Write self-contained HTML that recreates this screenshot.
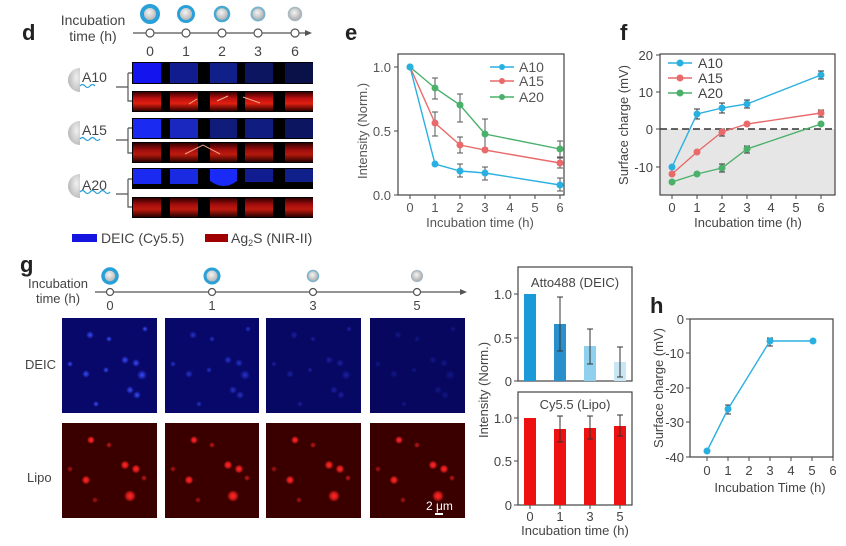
<!DOCTYPE html>
<html><head><meta charset="utf-8"><style>
html,body{margin:0;padding:0;background:#fff;}
svg{display:block;font-family:"Liberation Sans",sans-serif;}
</style></head><body>
<svg width="846" height="546" viewBox="0 0 846 546" xmlns="http://www.w3.org/2000/svg">
<defs>
<radialGradient id="ball" cx="0.45" cy="0.4" r="0.6"><stop offset="0" stop-color="#f4f4f4"/><stop offset="1" stop-color="#a8a8a8"/></radialGradient>
<radialGradient id="hemi" cx="0.7" cy="0.4" r="0.8"><stop offset="0" stop-color="#f0f0f0"/><stop offset="1" stop-color="#b0b0b0"/></radialGradient>
<radialGradient id="bdot"><stop offset="0" stop-color="#3a4cff"/><stop offset="1" stop-color="#3a4cff" stop-opacity="0"/></radialGradient>
<radialGradient id="rdot"><stop offset="0" stop-color="#ff2a2a"/><stop offset="0.5" stop-color="#ff2020" stop-opacity="0.8"/><stop offset="1" stop-color="#ff2020" stop-opacity="0"/></radialGradient>
<linearGradient id="rband" x1="0" y1="0" x2="0" y2="1"><stop offset="0" stop-color="#3a0000"/><stop offset="0.35" stop-color="#c01010"/><stop offset="0.6" stop-color="#e02010"/><stop offset="1" stop-color="#300000"/></linearGradient>
<g id="bdots">
<circle cx="28" cy="17" r="4" fill="url(#bdot)"/><circle cx="47" cy="21" r="3" fill="url(#bdot)"/><circle cx="83" cy="11" r="3" fill="url(#bdot)"/>
<circle cx="63" cy="42" r="4" fill="url(#bdot)"/><circle cx="74" cy="45" r="4" fill="url(#bdot)"/><circle cx="80" cy="57" r="5" fill="url(#bdot)"/>
<circle cx="24" cy="56" r="4" fill="url(#bdot)"/><circle cx="44" cy="52" r="3" fill="url(#bdot)"/><circle cx="68" cy="72" r="4" fill="url(#bdot)"/>
<circle cx="75" cy="77" r="4" fill="url(#bdot)"/><circle cx="34" cy="86" r="3" fill="url(#bdot)"/><circle cx="8" cy="46" r="3" fill="url(#bdot)"/>
</g>
<g id="rdots">
<circle cx="29" cy="17" r="4" fill="url(#rdot)"/><circle cx="47" cy="22" r="3" fill="url(#rdot)" opacity="0.6"/>
<circle cx="63" cy="42" r="4.5" fill="url(#rdot)"/><circle cx="74" cy="46" r="4.5" fill="url(#rdot)"/>
<circle cx="24" cy="57" r="4.5" fill="url(#rdot)"/><circle cx="68" cy="73" r="6" fill="url(#rdot)"/>
<circle cx="82" cy="55" r="3" fill="url(#rdot)" opacity="0.6"/><circle cx="8" cy="46" r="3" fill="url(#rdot)" opacity="0.5"/>
<circle cx="33" cy="77" r="3" fill="url(#rdot)" opacity="0.5"/>
</g>
</defs>

<!-- ===== Panel d ===== -->
<text x="22" y="40" font-size="22" font-weight="bold" fill="#222">d</text>
<text x="93" y="25" font-size="14" fill="#444" text-anchor="middle">Incubation</text>
<text x="93" y="41" font-size="14" fill="#444" text-anchor="middle">time (h)</text>
<g>
<circle cx="150" cy="14" r="8" fill="url(#ball)" stroke="#2aa0d8" stroke-width="4"/>
<circle cx="186" cy="14" r="7.5" fill="url(#ball)" stroke="#2aa0d8" stroke-width="3"/>
<circle cx="222" cy="14" r="7" fill="url(#ball)" stroke="#48a8d0" stroke-width="2.5"/>
<circle cx="258" cy="14" r="6.5" fill="url(#ball)" stroke="#7ab4cc" stroke-width="2"/>
<circle cx="295" cy="14" r="6.5" fill="url(#ball)" stroke="#a8b8c0" stroke-width="1.5"/>
</g>
<line x1="133" y1="33" x2="309" y2="33" stroke="#555" stroke-width="1.2"/>
<polygon points="312,33 305,30 305,36" fill="#555"/>
<g fill="#fff" stroke="#555" stroke-width="1.2">
<circle cx="150" cy="33" r="4"/><circle cx="186" cy="33" r="4"/><circle cx="222" cy="33" r="4"/><circle cx="258" cy="33" r="4"/><circle cx="295" cy="33" r="4"/>
</g>
<g font-size="14" fill="#444" text-anchor="middle">
<text x="150" y="56">0</text><text x="186" y="56">1</text><text x="222" y="56">2</text><text x="258" y="56">3</text><text x="295" y="56">6</text>
</g>
<!-- strips -->
<g>
<rect x="132" y="62" width="181" height="22" fill="#000"/>
<rect x="133" y="63" width="28" height="20" fill="#1414ee"/><rect x="170" y="63" width="28" height="20" fill="#111c8e"/><rect x="210" y="63" width="27" height="20" fill="#10208a"/><rect x="245" y="63" width="28" height="20" fill="#0c1660"/><rect x="285" y="63" width="28" height="20" fill="#0a1048"/>
<rect x="132" y="91" width="181" height="21" fill="#000"/>
<rect x="133" y="92" width="28" height="19" fill="url(#rband)"/><rect x="170" y="92" width="28" height="19" fill="url(#rband)"/><rect x="210" y="92" width="27" height="19" fill="url(#rband)"/><rect x="245" y="92" width="28" height="19" fill="url(#rband)"/><rect x="285" y="92" width="28" height="19" fill="url(#rband)"/>
<rect x="132" y="118" width="181" height="21" fill="#000"/>
<rect x="133" y="119" width="28" height="19" fill="#1a2af0"/><rect x="170" y="119" width="28" height="19" fill="#1a28c0"/><rect x="210" y="119" width="27" height="19" fill="#101c7a"/><rect x="245" y="119" width="28" height="19" fill="#101c80"/><rect x="285" y="119" width="28" height="19" fill="#0c1660"/>
<rect x="132" y="142" width="181" height="21" fill="#000"/>
<rect x="133" y="143" width="28" height="19" fill="url(#rband)" opacity="0.8"/><rect x="170" y="143" width="28" height="19" fill="url(#rband)" opacity="0.85"/><rect x="210" y="143" width="27" height="19" fill="url(#rband)" opacity="0.85"/><rect x="245" y="143" width="28" height="19" fill="url(#rband)" opacity="0.8"/><rect x="285" y="143" width="28" height="19" fill="url(#rband)" opacity="0.8"/>
<path d="M185 154 L203 145 L220 154" stroke="#f0a080" stroke-width="1" fill="none"/>
<rect x="132" y="168" width="181" height="21" fill="#000"/>
<rect x="133" y="169" width="28" height="15" fill="#1a2af0"/><rect x="170" y="169" width="28" height="15" fill="#1a2ae0"/><path d="M210 169 h27 v12 q-13 10 -27 0z" fill="#1a2af8"/><rect x="245" y="169" width="28" height="13" fill="#101c90"/><rect x="285" y="169" width="28" height="13" fill="#10208a"/>
<rect x="132" y="197" width="181" height="21" fill="#000"/>
<rect x="133" y="198" width="28" height="19" fill="url(#rband)" opacity="0.85"/><rect x="170" y="198" width="28" height="19" fill="url(#rband)" opacity="0.85"/><rect x="210" y="198" width="27" height="19" fill="url(#rband)" opacity="0.85"/><rect x="245" y="198" width="28" height="19" fill="url(#rband)" opacity="0.85"/><rect x="285" y="198" width="28" height="19" fill="url(#rband)" opacity="0.85"/>
<path d="M228 96 L217 101 M243 97 L260 103 M197 99 L189 104" stroke="#f0b090" stroke-width="1"/>
</g>
<!-- brackets and hemispheres -->
<g stroke="#555" stroke-width="1.2" fill="none">
<path d="M116 87 H128 M128 73 V101 H132 M128 73 H132"/>
<path d="M116 140 H128 M128 128 V153 H132 M128 128 H132"/>
<path d="M116 194 H128 M128 179 V207 H132 M128 179 H132"/>
</g>
<path d="M80 68 A12 12 0 0 0 80 92 Z" fill="url(#hemi)"/>
<path d="M80 121 A12 12 0 0 0 80 145 Z" fill="url(#hemi)"/>
<path d="M80 174 A12 12 0 0 0 80 198 Z" fill="url(#hemi)"/>
<g stroke="#2aa0d8" stroke-width="1.3" fill="none">
<path d="M80 86 q2.5 -3 5 0 t5 0 t5 0"/>
<path d="M80 139 q2.5 -3 5 0 t5 0 t5 0 t5 0"/>
<path d="M80 192 q2.5 -3 5 0 t5 0 t5 0 t5 0 t5 0 t5 0"/>
</g>
<g font-size="14" fill="#444">
<text x="82" y="82">A10</text><text x="82" y="135">A15</text><text x="82" y="190">A20</text>
</g>
<rect x="72" y="234" width="25" height="8" fill="#1515e0"/>
<text x="101" y="243" font-size="14" fill="#444">DEIC (Cy5.5)</text>
<rect x="205" y="234" width="23" height="8" fill="#a00000"/>
<text x="231" y="243" font-size="14" fill="#444">Ag<tspan font-size="9" dy="3">2</tspan><tspan dy="-3">S (NIR-II)</tspan></text>

<!-- ===== Panel e ===== -->
<text x="345" y="40" font-size="22" font-weight="bold" fill="#222">e</text>
<rect x="398" y="54" width="166" height="141" fill="none" stroke="#444" stroke-width="1.2"/>
<g stroke="#444" stroke-width="1">
<line x1="394" y1="67" x2="398" y2="67"/><line x1="394" y1="131" x2="398" y2="131"/><line x1="394" y1="195" x2="398" y2="195"/>
<line x1="410" y1="195" x2="410" y2="199"/><line x1="435" y1="195" x2="435" y2="199"/><line x1="460" y1="195" x2="460" y2="199"/><line x1="485" y1="195" x2="485" y2="199"/><line x1="510" y1="195" x2="510" y2="199"/><line x1="535" y1="195" x2="535" y2="199"/><line x1="560" y1="195" x2="560" y2="199"/>
</g>
<g font-size="13" fill="#555" text-anchor="end">
<text x="391" y="72">1.0</text><text x="391" y="136">0.5</text><text x="391" y="200">0.0</text>
</g>
<g font-size="13" fill="#555" text-anchor="middle">
<text x="410" y="212">0</text><text x="435" y="212">1</text><text x="460" y="212">2</text><text x="485" y="212">3</text><text x="510" y="212">4</text><text x="535" y="212">5</text><text x="560" y="212">6</text>
</g>
<text x="480" y="227" font-size="13" fill="#555" text-anchor="middle">Incubation time (h)</text>
<text transform="translate(367,131) rotate(-90)" font-size="13" fill="#555" text-anchor="middle">Intensity (Norm.)</text>
<g stroke="#555" stroke-width="1">
<path d="M435 99v-21 M432 99h6 M432 78h6"/><path d="M460 122v-28 M457 122h6 M457 94h6"/><path d="M485 148v-29 M482 148h6 M482 119h6"/><path d="M560 157v-16 M557 157h6 M557 141h6"/>
<path d="M435 136v-24 M432 136h6 M432 112h6"/><path d="M460 153v-16 M457 153h6 M457 137h6"/><path d="M560 168v-10 M557 168h6 M557 158h6"/>
<path d="M460 177v-13 M457 177h6 M457 164h6"/><path d="M485 180v-13 M482 180h6 M482 167h6"/><path d="M560 191v-13 M557 191h6 M557 178h6"/>
</g>
<polyline points="410,67 435,88 460,105 485,134 560,149" fill="none" stroke="#4ab06a" stroke-width="1.4"/>
<polyline points="410,67 435,123 460,145 485,150 560,163" fill="none" stroke="#e86a6a" stroke-width="1.4"/>
<polyline points="410,67 435,164 460,171 485,173 560,185" fill="none" stroke="#2ab0e0" stroke-width="1.4"/>
<g fill="#4ab06a"><circle cx="410" cy="67" r="3.5"/><circle cx="435" cy="88" r="3.5"/><circle cx="460" cy="105" r="3.5"/><circle cx="485" cy="134" r="3.5"/><circle cx="560" cy="149" r="3.5"/></g>
<g fill="#e86a6a"><circle cx="435" cy="123" r="3.5"/><circle cx="460" cy="145" r="3.5"/><circle cx="485" cy="150" r="3.5"/><circle cx="560" cy="163" r="3.5"/></g>
<g fill="#2ab0e0"><circle cx="410" cy="67" r="3.5"/><circle cx="435" cy="164" r="3.5"/><circle cx="460" cy="171" r="3.5"/><circle cx="485" cy="173" r="3.5"/><circle cx="560" cy="185" r="3.5"/></g>
<line x1="490" y1="67" x2="514" y2="67" stroke="#2ab0e0" stroke-width="1.4"/><circle cx="502" cy="67" r="3" fill="#2ab0e0"/>
<line x1="490" y1="81" x2="514" y2="81" stroke="#e86a6a" stroke-width="1.4"/><circle cx="502" cy="81" r="3" fill="#e86a6a"/>
<line x1="490" y1="97" x2="514" y2="97" stroke="#4ab06a" stroke-width="1.4"/><circle cx="502" cy="97" r="3" fill="#4ab06a"/>
<g font-size="14" fill="#555"><text x="519" y="72">A10</text><text x="519" y="86">A15</text><text x="519" y="102">A20</text></g>

<!-- ===== Panel f ===== -->
<text x="620" y="40" font-size="22" font-weight="bold" fill="#222">f</text>
<rect x="660" y="129" width="175" height="66" fill="#e6e6e6"/>
<rect x="660" y="54" width="175" height="141" fill="none" stroke="#444" stroke-width="1.2"/>
<line x1="660" y1="129" x2="835" y2="129" stroke="#333" stroke-width="1.5" stroke-dasharray="7,4"/>
<g stroke="#444" stroke-width="1">
<line x1="656" y1="55" x2="660" y2="55"/><line x1="656" y1="92" x2="660" y2="92"/><line x1="656" y1="129" x2="660" y2="129"/><line x1="656" y1="167" x2="660" y2="167"/>
<line x1="672" y1="195" x2="672" y2="199"/><line x1="697" y1="195" x2="697" y2="199"/><line x1="722" y1="195" x2="722" y2="199"/><line x1="747" y1="195" x2="747" y2="199"/><line x1="771" y1="195" x2="771" y2="199"/><line x1="796" y1="195" x2="796" y2="199"/><line x1="821" y1="195" x2="821" y2="199"/>
</g>
<g font-size="13" fill="#444" text-anchor="end">
<text x="653" y="60">20</text><text x="653" y="97">10</text><text x="653" y="134">0</text><text x="653" y="172">-10</text>
</g>
<g font-size="13" fill="#444" text-anchor="middle">
<text x="672" y="212">0</text><text x="697" y="212">1</text><text x="722" y="212">2</text><text x="747" y="212">3</text><text x="771" y="212">4</text><text x="796" y="212">5</text><text x="821" y="212">6</text>
</g>
<text x="748" y="227" font-size="13" fill="#444" text-anchor="middle">Incubation time (h)</text>
<text transform="translate(628,125) rotate(-90)" font-size="13" fill="#444" text-anchor="middle">Surface charge (mV)</text>
<g stroke="#333" stroke-width="1">
<path d="M697 119v-10 M694 119h6 M694 109h6"/><path d="M722 113v-10 M719 113h6 M719 103h6"/><path d="M747 108v-8 M744 108h6 M744 100h6"/><path d="M821 79v-8 M818 79h6 M818 71h6"/>
<path d="M821 117v-7 M818 117h6 M818 110h6"/><path d="M722 136v-7 M719 136h6 M719 129h6"/><path d="M747 153v-7 M744 153h6 M744 146h6"/><path d="M722 172v-8 M719 172h6 M719 164h6"/>
</g>
<polyline points="672,167 697,114 722,108 747,104 821,75" fill="none" stroke="#2ab0e0" stroke-width="1.4"/>
<polyline points="672,174 697,152 722,132 747,124 821,113" fill="none" stroke="#e86a6a" stroke-width="1.4"/>
<polyline points="672,182 697,174 722,168 747,149 821,124" fill="none" stroke="#4ab06a" stroke-width="1.4"/>
<g fill="#2ab0e0"><circle cx="672" cy="167" r="3.5"/><circle cx="697" cy="114" r="3.5"/><circle cx="722" cy="108" r="3.5"/><circle cx="747" cy="104" r="3.5"/><circle cx="821" cy="75" r="3.5"/></g>
<g fill="#e86a6a"><circle cx="672" cy="174" r="3.5"/><circle cx="697" cy="152" r="3.5"/><circle cx="722" cy="132" r="3.5"/><circle cx="747" cy="124" r="3.5"/><circle cx="821" cy="113" r="3.5"/></g>
<g fill="#4ab06a"><circle cx="672" cy="182" r="3.5"/><circle cx="697" cy="174" r="3.5"/><circle cx="722" cy="168" r="3.5"/><circle cx="747" cy="149" r="3.5"/><circle cx="821" cy="124" r="3.5"/></g>
<line x1="668" y1="63" x2="692" y2="63" stroke="#2ab0e0" stroke-width="1.4"/><circle cx="680" cy="63" r="3.5" fill="#2ab0e0"/>
<line x1="668" y1="78" x2="692" y2="78" stroke="#e86a6a" stroke-width="1.4"/><circle cx="680" cy="78" r="3.5" fill="#e86a6a"/>
<line x1="668" y1="93" x2="692" y2="93" stroke="#4ab06a" stroke-width="1.4"/><circle cx="680" cy="93" r="3.5" fill="#4ab06a"/>
<g font-size="14" fill="#444"><text x="698" y="68">A10</text><text x="698" y="83">A15</text><text x="698" y="98">A20</text></g>

<!-- ===== Panel g ===== -->
<text x="20" y="272" font-size="22" font-weight="bold" fill="#222">g</text>
<text x="58" y="288" font-size="13" fill="#444" text-anchor="middle">Incubation</text>
<text x="58" y="303" font-size="13" fill="#444" text-anchor="middle">time (h)</text>
<circle cx="110" cy="276" r="7" fill="url(#ball)" stroke="#2aa0d8" stroke-width="3.5"/>
<circle cx="212" cy="276" r="7" fill="url(#ball)" stroke="#2aa0d8" stroke-width="3"/>
<circle cx="313" cy="276" r="5.5" fill="url(#ball)" stroke="#7ab4cc" stroke-width="1.5"/>
<circle cx="417" cy="276" r="5.5" fill="url(#ball)" stroke="#a8b8c0" stroke-width="1.2"/>
<line x1="95" y1="292" x2="463" y2="292" stroke="#555" stroke-width="1.2"/>
<polygon points="467,292 460,289 460,295" fill="#555"/>
<g fill="#fff" stroke="#555" stroke-width="1.2"><circle cx="110" cy="292" r="3.5"/><circle cx="212" cy="292" r="3.5"/><circle cx="313" cy="292" r="3.5"/><circle cx="417" cy="292" r="3.5"/></g>
<g font-size="13" fill="#444" text-anchor="middle"><text x="110" y="310">0</text><text x="212" y="310">1</text><text x="313" y="310">3</text><text x="417" y="310">5</text></g>
<text x="25" y="369" font-size="13" fill="#444">DEIC</text>
<text x="27" y="482" font-size="13" fill="#444">Lipo</text>
<g>
<rect x="62" y="318" width="95" height="95" fill="#08086a"/><use href="#bdots" x="62" y="318"/>
<rect x="165" y="318" width="94" height="95" fill="#08086a"/><use href="#bdots" x="165" y="318" opacity="0.65"/>
<rect x="266" y="318" width="95" height="95" fill="#070764"/><use href="#bdots" x="266" y="318" opacity="0.4"/>
<rect x="370" y="318" width="95" height="95" fill="#070760"/><use href="#bdots" x="370" y="318" opacity="0.25"/>
<rect x="62" y="423" width="95" height="95" fill="#3a0000"/><use href="#rdots" x="62" y="423"/>
<rect x="165" y="423" width="94" height="95" fill="#3a0000"/><use href="#rdots" x="165" y="423"/>
<rect x="266" y="423" width="95" height="95" fill="#3a0000"/><use href="#rdots" x="266" y="423"/>
<rect x="370" y="423" width="95" height="95" fill="#3a0000"/><use href="#rdots" x="370" y="423"/>
</g>
<text x="426" y="510" font-size="12" fill="#fff">2 μm</text>
<rect x="435" y="513" width="8" height="2" fill="#fff"/>

<!-- bar charts -->
<rect x="518" y="267" width="114" height="114" fill="none" stroke="#444" stroke-width="1.2"/>
<text x="575" y="287" font-size="13" fill="#444" text-anchor="middle">Atto488 (DEIC)</text>
<rect x="524" y="294" width="12" height="87" fill="#1a9ad6"/>
<rect x="554" y="324" width="12" height="57" fill="#2a90cc"/>
<rect x="584" y="346" width="12" height="35" fill="#8fd0ef"/>
<rect x="614" y="362" width="12" height="19" fill="#c8e6f4"/>
<g stroke="#333" stroke-width="1"><path d="M560 351v-54 M557 351h6 M557 297h6"/><path d="M590 364v-35 M587 364h6 M587 329h6"/><path d="M620 377v-30 M617 377h6 M617 347h6"/></g>
<g stroke="#444"><line x1="514" y1="294" x2="518" y2="294"/><line x1="514" y1="338" x2="518" y2="338"/><line x1="514" y1="381" x2="518" y2="381"/></g>
<g font-size="13" fill="#444" text-anchor="end"><text x="512" y="299">1.0</text><text x="512" y="343">0.5</text><text x="512" y="386">0</text></g>
<rect x="518" y="392" width="114" height="113" fill="none" stroke="#444" stroke-width="1.2"/>
<text x="575" y="409" font-size="13" fill="#444" text-anchor="middle">Cy5.5 (Lipo)</text>
<rect x="524" y="418" width="12" height="87" fill="#ee1111"/>
<rect x="554" y="429" width="12" height="76" fill="#ee1111"/>
<rect x="584" y="428" width="12" height="77" fill="#ee1111"/>
<rect x="614" y="426" width="12" height="79" fill="#ee1111"/>
<g stroke="#333" stroke-width="1"><path d="M560 442v-26 M557 442h6 M557 416h6"/><path d="M590 439v-23 M587 439h6 M587 416h6"/><path d="M620 436v-21 M617 436h6 M617 415h6"/></g>
<g stroke="#444"><line x1="514" y1="418" x2="518" y2="418"/><line x1="514" y1="461" x2="518" y2="461"/><line x1="514" y1="505" x2="518" y2="505"/><line x1="530" y1="505" x2="530" y2="509"/><line x1="560" y1="505" x2="560" y2="509"/><line x1="590" y1="505" x2="590" y2="509"/><line x1="620" y1="505" x2="620" y2="509"/></g>
<g font-size="13" fill="#444" text-anchor="end"><text x="512" y="423">1.0</text><text x="512" y="466">0.5</text><text x="512" y="510">0</text></g>
<g font-size="13" fill="#444" text-anchor="middle"><text x="530" y="521">0</text><text x="560" y="521">1</text><text x="590" y="521">3</text><text x="620" y="521">5</text></g>
<text x="575" y="535" font-size="13" fill="#444" text-anchor="middle">Incubation time (h)</text>
<text transform="translate(488,390) rotate(-90)" font-size="13" fill="#444" text-anchor="middle">Intensity (Norm.)</text>

<!-- ===== Panel h ===== -->
<text x="650" y="313" font-size="22" font-weight="bold" fill="#222">h</text>
<rect x="690" y="319" width="143" height="138" fill="none" stroke="#444" stroke-width="1.2"/>
<g stroke="#444"><line x1="686" y1="319" x2="690" y2="319"/><line x1="686" y1="353" x2="690" y2="353"/><line x1="686" y1="388" x2="690" y2="388"/><line x1="686" y1="422" x2="690" y2="422"/><line x1="686" y1="457" x2="690" y2="457"/>
<line x1="707" y1="457" x2="707" y2="461"/><line x1="728" y1="457" x2="728" y2="461"/><line x1="749" y1="457" x2="749" y2="461"/><line x1="770" y1="457" x2="770" y2="461"/><line x1="791" y1="457" x2="791" y2="461"/><line x1="812" y1="457" x2="812" y2="461"/><line x1="833" y1="457" x2="833" y2="461"/></g>
<g font-size="13" fill="#444" text-anchor="end"><text x="684" y="324">0</text><text x="684" y="358">-10</text><text x="684" y="393">-20</text><text x="684" y="427">-30</text><text x="684" y="462">-40</text></g>
<g font-size="13" fill="#444" text-anchor="middle"><text x="707" y="475">0</text><text x="728" y="475">1</text><text x="749" y="475">2</text><text x="770" y="475">3</text><text x="791" y="475">4</text><text x="812" y="475">5</text><text x="833" y="475">6</text></g>
<text x="770" y="492" font-size="13" fill="#444" text-anchor="middle">Incubation Time (h)</text>
<text transform="translate(663,388) rotate(-90)" font-size="13" fill="#444" text-anchor="middle">Surface charge (mV)</text>
<g stroke="#333" stroke-width="1"><path d="M728 414v-9 M725 414h6 M725 405h6"/><path d="M770 346v-8 M767 346h6 M767 338h6"/></g>
<polyline points="707,451 728,409 770,341 813,341" fill="none" stroke="#2ab0e0" stroke-width="1.4"/>
<g fill="#2ab0e0"><circle cx="707" cy="451" r="3.5"/><circle cx="728" cy="409" r="3.5"/><circle cx="770" cy="341" r="3.5"/><circle cx="813" cy="341" r="3.5"/></g>
</svg>
</body></html>
